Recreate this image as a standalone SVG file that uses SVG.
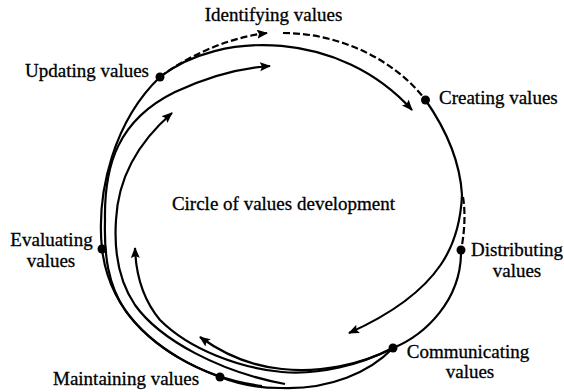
<svg xmlns="http://www.w3.org/2000/svg" width="564" height="392" viewBox="0 0 564 392">
<style>
text{font-family:"Liberation Serif","Times New Roman",serif;font-size:19px;fill:#000;stroke:#000;stroke-width:0.3}
.c{fill:none;stroke:#000;stroke-width:2.2}
.d{stroke-dasharray:7 3}
.a{marker-end:url(#ah)}
.dot{fill:#000}
</style>
<defs>
<marker id="ah" markerUnits="userSpaceOnUse" markerWidth="12" markerHeight="10" refX="10" refY="4.5" orient="auto" viewBox="0 0 12 10">
<path d="M0,0 L11,4.5 L0,9 L2,4.5 z" fill="#000"/>
</marker>
</defs>
<rect width="564" height="392" fill="#fff"/>
<g id="connectors">
<path class="c d a" d="M160,77 C185,58 225,38 267,33"/>
<path class="c d" d="M283,33 C340,33 395,60 425.5,100"/>
<path class="c a" d="M160,77 C220,30 340,30 412,110"/>
<path class="c a" d="M425.5,100 C445,128 460,160 462,195 C460,240 445,290 349,333"/>
<path class="c d" d="M463,197 C466,215 464,236 461,250"/>
<path class="c" d="M461,250 C462,300 425,335 393,348 C370,372 330,390 280,388 C258,388 238,384 220,377 C160,355 110,315 102,249 C96,190 115,120 160,77"/>
<path class="c a" d="M262,386 C200,378 150,345 125,310 C108,285 104,255 105,220 C104,165 118,120 175,92 C205,78 240,68 270,66"/>
<path class="c a" d="M285,384 C220,372 160,340 135,305 C118,280 114,250 116,220 C118,180 135,145 172,113"/>
<path class="c a" d="M393,348 C360,365 320,375 282,372 C240,368 190,350 160,320 C145,302 136,280 135,248"/>
<path class="c a" d="M393,348 C360,365 320,373 282,369 C250,366 222,353 200,337"/>
</g>
<g id="updating"><circle class="dot" cx="160" cy="77" r="4.5"/><text x="149" y="77" text-anchor="end">Updating values</text></g>
<g id="identifying"><text x="273.5" y="21" text-anchor="middle">Identifying values</text></g>
<g id="creating"><circle class="dot" cx="425.5" cy="100" r="4.5"/><text x="439" y="104">Creating values</text></g>
<g id="distributing"><circle class="dot" cx="461" cy="250" r="4.5"/><text x="517" y="256" text-anchor="middle">Distributing</text><text x="517" y="277" text-anchor="middle">values</text></g>
<g id="communicating"><circle class="dot" cx="393" cy="348" r="4.5"/><text x="468" y="358" text-anchor="middle">Communicating</text><text x="470" y="378" text-anchor="middle">values</text></g>
<g id="maintaining"><circle class="dot" cx="220" cy="377" r="4.5"/><text x="53" y="385">Maintaining values</text></g>
<g id="evaluating"><circle class="dot" cx="102" cy="249" r="4.5"/><text x="51.5" y="246" text-anchor="middle">Evaluating</text><text x="51" y="266.5" text-anchor="middle">values</text></g>
<g id="center"><text x="283.5" y="210" text-anchor="middle">Circle of values development</text></g>
</svg>
